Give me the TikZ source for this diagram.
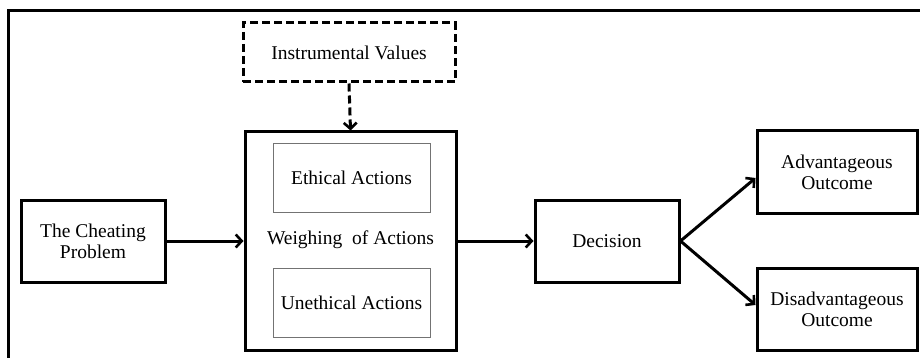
\documentclass[tikz,border=0pt]{standalone}
\usepackage{fontspec}
\setmainfont{Liberation Serif}
\usetikzlibrary{arrows.meta}
\begin{document}
\begin{tikzpicture}[x=1pt,y=-1pt,
  thickbox/.style={draw=black, line width=3pt, fill=white, align=center, inner sep=0pt,
    font=\fontsize{19.5}{21}\selectfont},
  thinbox/.style={draw=black!55, line width=0.9pt, align=center, inner sep=0pt,
    font=\fontsize{19.5}{21}\selectfont},
  dashbox/.style={thickbox, dash pattern=on 8pt off 4pt},
  arr/.style={line width=3pt, -{Straight Barb[length=6pt,width=13pt,line width=2.6pt]}},
  lbl/.style={align=center, inner sep=0pt, font=\fontsize{19.5}{21}\selectfont}]
\useasboundingbox (0,0) rectangle (920,358);
\fill[white] (0,0) rectangle (920,358);
% outer frame (cropped)
\draw[line width=3pt] (8,358) -- (8,11) -- (920,11);

\node[dashbox, minimum width=212pt, minimum height=59pt] (iv) at (349,52.5) {Instrumental Values};
\node[thickbox, minimum width=211pt, minimum height=218pt] (w) at (350.5,241) {};
\node[thinbox, minimum width=157pt, minimum height=69pt] (eth) at (351.5,177.5) {Ethical Actions};
\node[lbl] (wl) at (350.5,240) {Weighing \ of Actions};
\node[thinbox, minimum width=157pt, minimum height=69pt] (uneth) at (351.5,302.5) {Unethical Actions};

\node[thickbox, minimum width=144pt, minimum height=82pt] (cp) at (93,241) {The Cheating\\Problem};
\node[thickbox, minimum width=144pt, minimum height=82pt] (dec) at (607,241) {Decision};
\node[thickbox, minimum width=160pt, minimum height=82pt] (adv) at (837,172) {Advantageous\\Outcome};
\node[thickbox, minimum width=160pt, minimum height=82pt] (dis) at (837,309) {Disadvantageous\\Outcome};

\draw[arr, dash pattern=on 8pt off 4pt] (iv.south) -- (w.north);
\draw[arr] (cp.east) -- (w.west);
\draw[arr] (w.east) -- (dec.west);
\coordinate (a1) at (757,178);
\coordinate (a2) at (757,305);
\draw[arr] (dec.east) -- (adv.west |- a1);
\draw[arr] (dec.east) -- (dis.west |- a2);
\end{tikzpicture}
\end{document}
